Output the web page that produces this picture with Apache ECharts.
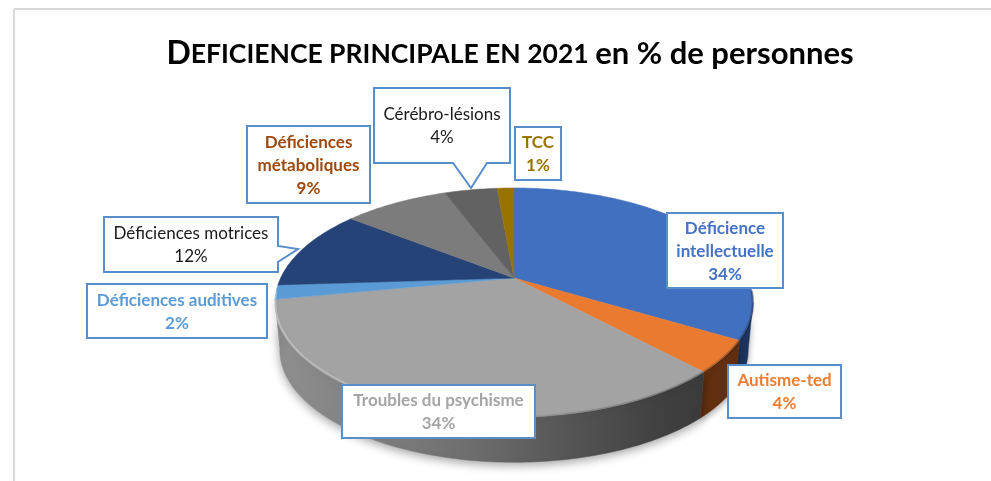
<!DOCTYPE html>
<html>
<head>
<meta charset="utf-8">
<style>html,body{margin:0;padding:0;background:#fff}#c{width:991px;height:481px}</style>
<script src="https://cdn.jsdelivr.net/npm/echarts@6/dist/echarts.min.js"></script>
</head>
<body>
<div id="c"></div>
<script>
const categories = ['Déficience\nintellectuelle','Autisme-ted','Troubles du psychisme','Déficiences auditives','Déficiences motrices','Déficiences\nmétaboliques','Cérébro-lésions','TCC'];
const values = [33.5, 4.45, 34.05, 2.0, 11.5, 8.7, 4.4, 1.4];
const sliceColors = ['#4070bf','#e97a30','#a3a3a3','#5b9bd5','#254377','#7c7c7c','#626262','#997300'];
const labelColors = ['#4472c4','#ed7d31','#a5a5a5','#5b9bd5','#1a1a1a','#9e480e','#1a1a1a','#997300'];
const labelBold = [true,true,true,true,false,true,false,true];

// callout geometry: [left, top, right, bottom, optional tail points]
const callouts = [
  [667,213,783,288],
  [728,365,841,418],
  [342,385,535,438],
  [87,284,267,338],
  [104,217,278,272,[[278,246],[298,249],[278,262]]],
  [247,126,370,203],
  [374,88,510,163,[[487,163],[471,188],[453,163]]],
  [515,127,561,180]
];

// perspective projection of the pie disc
const CX = 514, APEX_Y = 278, R = 233.4, B = 109.3, K = -0.214, DEPTH = 47.5, BOTTOM_SCALE = 0.98, ELLIPSE_Y = 302.5;
const total = values.reduce((a, b) => a + b, 0);
const starts = [];
values.reduce((s, v, i) => { starts[i] = s; return s + v; }, 0);
const toDeg = v => v / total * 360;
function rim(deg) {
  const t = deg * Math.PI / 180, u = Math.sin(t), v = -Math.cos(t), d = 1 + K * v;
  return [CX + R * u / d, APEX_Y + B * v / d];
}
function lower(p) {
  return [CX + (p[0] - CX) * BOTTOM_SCALE, ELLIPSE_Y + (p[1] - ELLIPSE_Y) * BOTTOM_SCALE + DEPTH];
}
function arc(a, b) {
  const pts = [], n = Math.max(2, Math.ceil(b - a));
  for (let i = 0; i <= n; i++) pts.push(rim(a + (b - a) * i / n));
  return pts;
}
const VIS_A = 102.4, VIS_B = 259.5;
const G = echarts.graphic.LinearGradient;
const wallFill = i => {
  if (i === 0) return '#1d3661';
  if (i === 1) return '#622f10';
  return new G(280, 0, 700, 0, [
    {offset:0, color:'#8f8f8f'},{offset:.12, color:'#868686'},{offset:.45, color:'#6e6e6e'},
    {offset:.7, color:'#545454'},{offset:.9, color:'#414141'},{offset:1, color:'#3b3b3b'}
  ], true);
};

function renderWall(params) {
  const i = params.dataIndex;
  const a = Math.max(toDeg(starts[i]), VIS_A), b = Math.min(toDeg(starts[i] + values[i]), VIS_B);
  if (b <= a) return {type:'group', children:[]};
  const top = arc(a, b), bottom = top.map(lower).reverse();
  return {type:'polygon', shape:{points:top.concat(bottom)}, silent:true,
    style:{fill:wallFill(i), stroke:wallFill(i), lineWidth:.5,
      shadowBlur:i === 2 ? 10 : 6, shadowColor:'rgba(0,0,0,.35)', shadowOffsetY:3}};
}
function renderTop(params) {
  const i = params.dataIndex;
  const pts = [[CX, APEX_Y]].concat(arc(toDeg(starts[i]), toDeg(starts[i] + values[i])));
  const bevel = i < 4 ? arc(Math.max(toDeg(starts[i]), VIS_A - 6), Math.min(toDeg(starts[i] + values[i]), VIS_B + 4)) : null;
  const children = [{type:'polygon', shape:{points:pts}, silent:true,
    style:{fill:sliceColors[i], stroke:sliceColors[i], lineWidth:.5}}];
  if (bevel && bevel.length > 1) children.push({type:'polyline', shape:{points:bevel}, silent:true,
    style:{fill:null, lineWidth:2.5, shadowBlur:3, shadowColor:'rgba(0,0,0,.15)',
      stroke:new G(280, 0, 740, 0, [
        {offset:0, color:'rgba(255,255,255,.3)'},{offset:.4, color:'rgba(255,255,255,.22)'},
        {offset:.65, color:'rgba(60,60,60,.25)'},{offset:1, color:'rgba(20,20,20,.3)'}], true)}});
  return {type:'group', children};
}
function renderLabel(params) {
  const i = params.dataIndex, [l, t, r, b, tail] = callouts[i];
  const corners = tail
    ? (i === 4
        ? [[l,t],[r,t],...tail,[r,b],[l,b]]
        : [[l,t],[r,t],[r,b],...tail,[l,b]])
    : [[l,t],[r,t],[r,b],[l,b]];
  return {type:'group', children:[
    {type:'polygon', shape:{points:corners}, silent:true,
      style:{fill:'#fff', stroke:'#5a8ec9', lineWidth:2}},
    {type:'text', silent:true, x:(l + r) / 2, y:(t + b) / 2 + 1, style:{
      text:categories[i] + '\n' + Math.round(values[i]) + '%',
      align:'center', verticalAlign:'middle', lineHeight:23,
      font:(labelBold[i] ? 'bold ' : '') + '17px Lato', fill:labelColors[i]}}
  ]};
}
const rows = categories.map((c, i) => [i]);
const common = {type:'custom', coordinateSystem:'none', data:rows, silent:true, animation:false};

const chart = echarts.init(document.getElementById('c'), null, {renderer:'canvas'});
chart.setOption({
  animation:false,
  backgroundColor:'#fff',
  graphic:[
    {type:'line', shape:{x1:14,y1:9,x2:991,y2:9}, style:{stroke:'#d9d9d9', lineWidth:2}, silent:true},
    {type:'line', shape:{x1:14,y1:9,x2:14,y2:481}, style:{stroke:'#d9d9d9', lineWidth:2}, silent:true},
    {type:'text', x:510, y:54, silent:true, style:{
      text:'{a|D}{b|EFICIENCE PRINCIPALE EN 2021 }{c|en % de personnes}',
      align:'center', verticalAlign:'middle', fill:'#000',
      rich:{
        a:{fontFamily:'Lato', fontWeight:'bold', fontSize:32, fill:'#000'},
        b:{fontFamily:'Lato', fontWeight:'bold', fontSize:26.5, fill:'#000'},
        c:{fontFamily:'Lato', fontWeight:'bold', fontSize:31, fill:'#000'}
      }}}
  ],
  series:[
    Object.assign({renderItem:renderWall, z:2}, common),
    Object.assign({renderItem:renderTop, z:3}, common),
    Object.assign({renderItem:renderLabel, z:4}, common)
  ]
});
</script>
</body>
</html>
